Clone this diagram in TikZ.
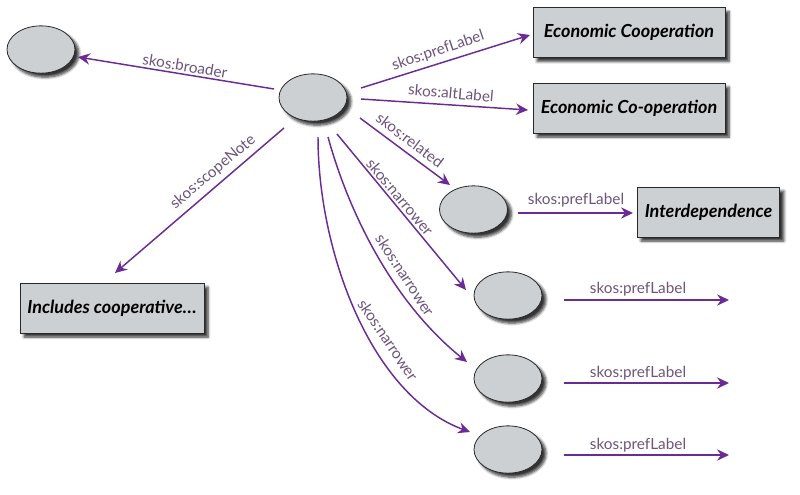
\documentclass[tikz,border=0pt]{standalone}
\usepackage{fontspec}
\setmainfont{Lato}
\usetikzlibrary{arrows.meta,shapes.geometric,shadows.blur}
\definecolor{arrcol}{RGB}{106,44,148}
\definecolor{labcol}{RGB}{108,84,124}
\definecolor{nodefill}{RGB}{205,208,211}
\definecolor{edgecol}{RGB}{40,40,40}
\tikzset{
  res/.style={ellipse,draw=edgecol,line width=0.6pt,fill=nodefill,inner sep=0pt,
    minimum width=51pt,minimum height=35.5pt,
    blur shadow={shadow xshift=3pt,shadow yshift=-3pt,shadow blur steps=6,shadow opacity=80}},
  lit/.style={rectangle,draw=edgecol,line width=0.6pt,fill=nodefill,inner sep=0pt,
    minimum height=37.5pt,font=\fontsize{13.5}{15}\selectfont\bfseries\itshape,
    blur shadow={shadow xshift=3pt,shadow yshift=-3pt,shadow blur steps=6,shadow opacity=80}},
  arr/.style={draw=arrcol,line width=1.1pt,-{Stealth[length=9pt,width=8.5pt,inset=3pt]}},
  lab/.style={text=labcol,font=\fontsize{11.5}{13}\selectfont,inner sep=0pt}
}
\begin{document}
\begin{tikzpicture}[x=0.75pt,y=-0.75pt]
\useasboundingbox (0,0) rectangle (800,494);
% nodes
\node[res] (b) at (41,49.5) {};
\node[res] (c) at (313,97.5) {};
\node[res] (r) at (473.5,209.5) {};
\node[res] (n1) at (508,295.5) {};
\node[res] (n2) at (508,378.5) {};
\node[res] (n3) at (508,449.5) {};
\node[lit,minimum width=144pt] (p1) at (629,32.5) {Economic Cooperation};
\node[lit,minimum width=144pt] (p2) at (629,108) {Economic Co-operation};
\node[lit,minimum width=107pt] (p3) at (708.5,212) {Interdependence};
\node[lit,minimum width=138pt] (s) at (112,308) {Includes cooperative\ldots};
\coordinate (e1) at (729,300);
\coordinate (e2) at (729,383);
\coordinate (e3) at (729,455);
% connectors
\draw[arr] ([shift={(-39,-8.5)}]c.center) -- ([shift={(37,7.5)}]b.center);
\draw[arr] ([shift={(48,-9.5)}]c.center) -- ([shift={(-99,2.5)}]p1.center);
\draw[arr] ([shift={(48,1.5)}]c.center) -- ([shift={(-101,2)}]p2.center);
\draw[arr] ([shift={(47,20.5)}]c.center) -- ([shift={(-23.5,-24.5)}]r.center);
\draw[arr] ([shift={(-29,30.5)}]c.center) -- ([shift={(3,-35)}]s.center);
\draw[arr] ([shift={(24,36.5)}]c.center) -- ([shift={(-42,-5.5)}]n1.center);
\draw[arr] ([shift={(15,39.5)}]c.center) .. controls (350,217) and (395,304) .. ([shift={(-41,-16.5)}]n2.center);
\draw[arr] ([shift={(5,39.5)}]c.center) .. controls (318,250) and (370,395) .. ([shift={(-38,-17.5)}]n3.center);
\draw[arr] ([shift={(44.5,3.5)}]r.center) -- ([shift={(-75.5,1)}]p3.center);
\draw[arr] ([shift={(56,4.5)}]n1.center) -- (e1);
\draw[arr] ([shift={(56,4.5)}]n2.center) -- (e2);
\draw[arr] ([shift={(56,5.5)}]n3.center) -- (e3);
% labels
\node[lab,rotate=-9.3] at (185,66) {skos:broader};
\node[lab,rotate=18.5] at (438,51) {skos:prefLabel};
\node[lab,rotate=-5] at (451,93) {skos:altLabel};
\node[lab,rotate=-37] at (410,140) {skos:related};
\node[lab,rotate=40] at (213,172) {skos:scopeNote};
\node[lab,rotate=-50] at (400,197) {skos:narrower};
\node[lab,rotate=-57] at (405,275) {skos:narrower};
\node[lab,rotate=-56] at (388,340) {skos:narrower};
\node[lab] at (576,200) {skos:prefLabel};
\node[lab] at (638,289) {skos:prefLabel};
\node[lab] at (638,373) {skos:prefLabel};
\node[lab] at (638,445) {skos:prefLabel};
\end{tikzpicture}
\end{document}
